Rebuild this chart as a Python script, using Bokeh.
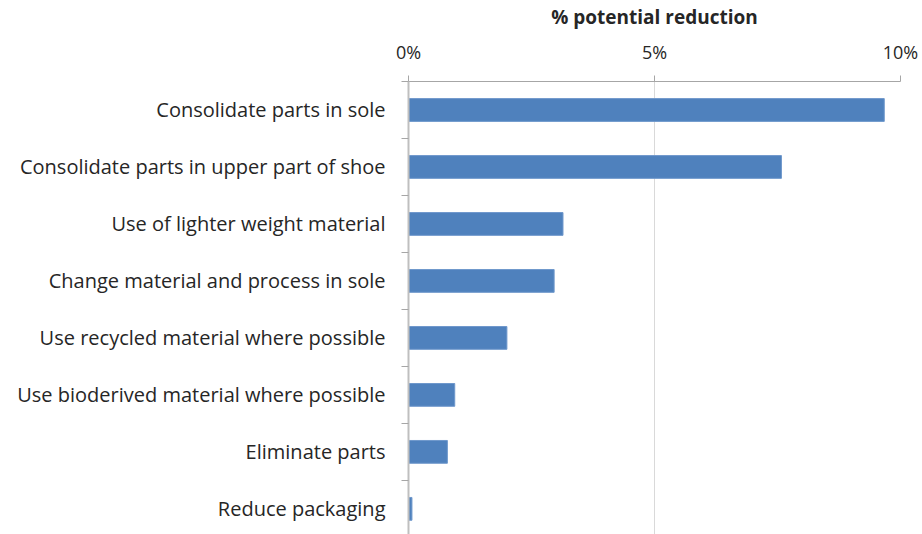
from bokeh.plotting import figure
from bokeh.models import Range1d, FixedTicker, NumeralTickFormatter
from bokeh.embed import file_html
from bokeh.resources import INLINE

categories = [
    "Consolidate parts in sole",
    "Consolidate parts in upper part of shoe",
    "Use of lighter weight material",
    "Change material and process in sole",
    "Use recycled material where possible",
    "Use bioderived material where possible",
    "Eliminate parts",
    "Reduce packaging",
]
values = [0.0967, 0.0758, 0.0314, 0.0296, 0.0200, 0.0094, 0.0079, 0.0007]
x_ticks = [0.0, 0.05, 0.10]
axis_title = "% potential reduction"

FONT = "Open Sans"
TXT = "#262626"

ypos = list(range(len(categories)))

p = figure(width=922, height=534, output_backend="svg", toolbar_location=None,
           x_range=Range1d(0, 0.10), y_range=Range1d(7.45, -0.5),
           x_axis_location="above", min_border_left=408, min_border_right=22,
           min_border_top=81, min_border_bottom=0)
p.outline_line_color = None
p.background_fill_color = "white"
p.border_fill_color = "white"

p.hbar(y=ypos, right=values, left=0, height=0.40, fill_color="#4F81BD",
       line_color="#6F98CC", line_width=1)

# top x axis
xa = p.xaxis[0]
xa.ticker = FixedTicker(ticks=x_ticks, minor_ticks=[])
xa.formatter = NumeralTickFormatter(format="0%")
xa.axis_label = axis_title
xa.axis_label_text_font = FONT
xa.axis_label_text_font_style = "bold"
xa.axis_label_text_font_size = "19px"
xa.axis_label_text_color = TXT
xa.axis_label_standoff = 7
xa.major_label_text_font = FONT
xa.major_label_text_font_size = "18px"
xa.major_label_text_color = TXT
xa.major_label_standoff = 12
xa.axis_line_color = "#A6A6A6"
xa.major_tick_line_color = "#A6A6A6"
xa.major_tick_out = 6
xa.major_tick_in = 0
xa.minor_tick_line_color = None

# left category axis
ya = p.yaxis[0]
ya.ticker = FixedTicker(ticks=ypos, minor_ticks=[i - 0.5 for i in range(len(categories) + 1)])
ya.major_label_overrides = {i: c for i, c in enumerate(categories)}
ya.major_label_text_font = FONT
ya.major_label_text_font_size = "20px"
ya.major_label_text_color = TXT
ya.major_label_standoff = 16
ya.major_tick_line_color = None
ya.major_tick_out = 0
ya.major_tick_in = 0
ya.minor_tick_line_color = "#A6A6A6"
ya.minor_tick_out = 7
ya.minor_tick_in = 0
ya.axis_line_color = "#BFBFBF"
ya.axis_line_width = 2

p.xgrid.grid_line_color = "#D9D9D9"
p.ygrid.grid_line_color = None

open("out.html", "w").write(file_html(p, INLINE))
